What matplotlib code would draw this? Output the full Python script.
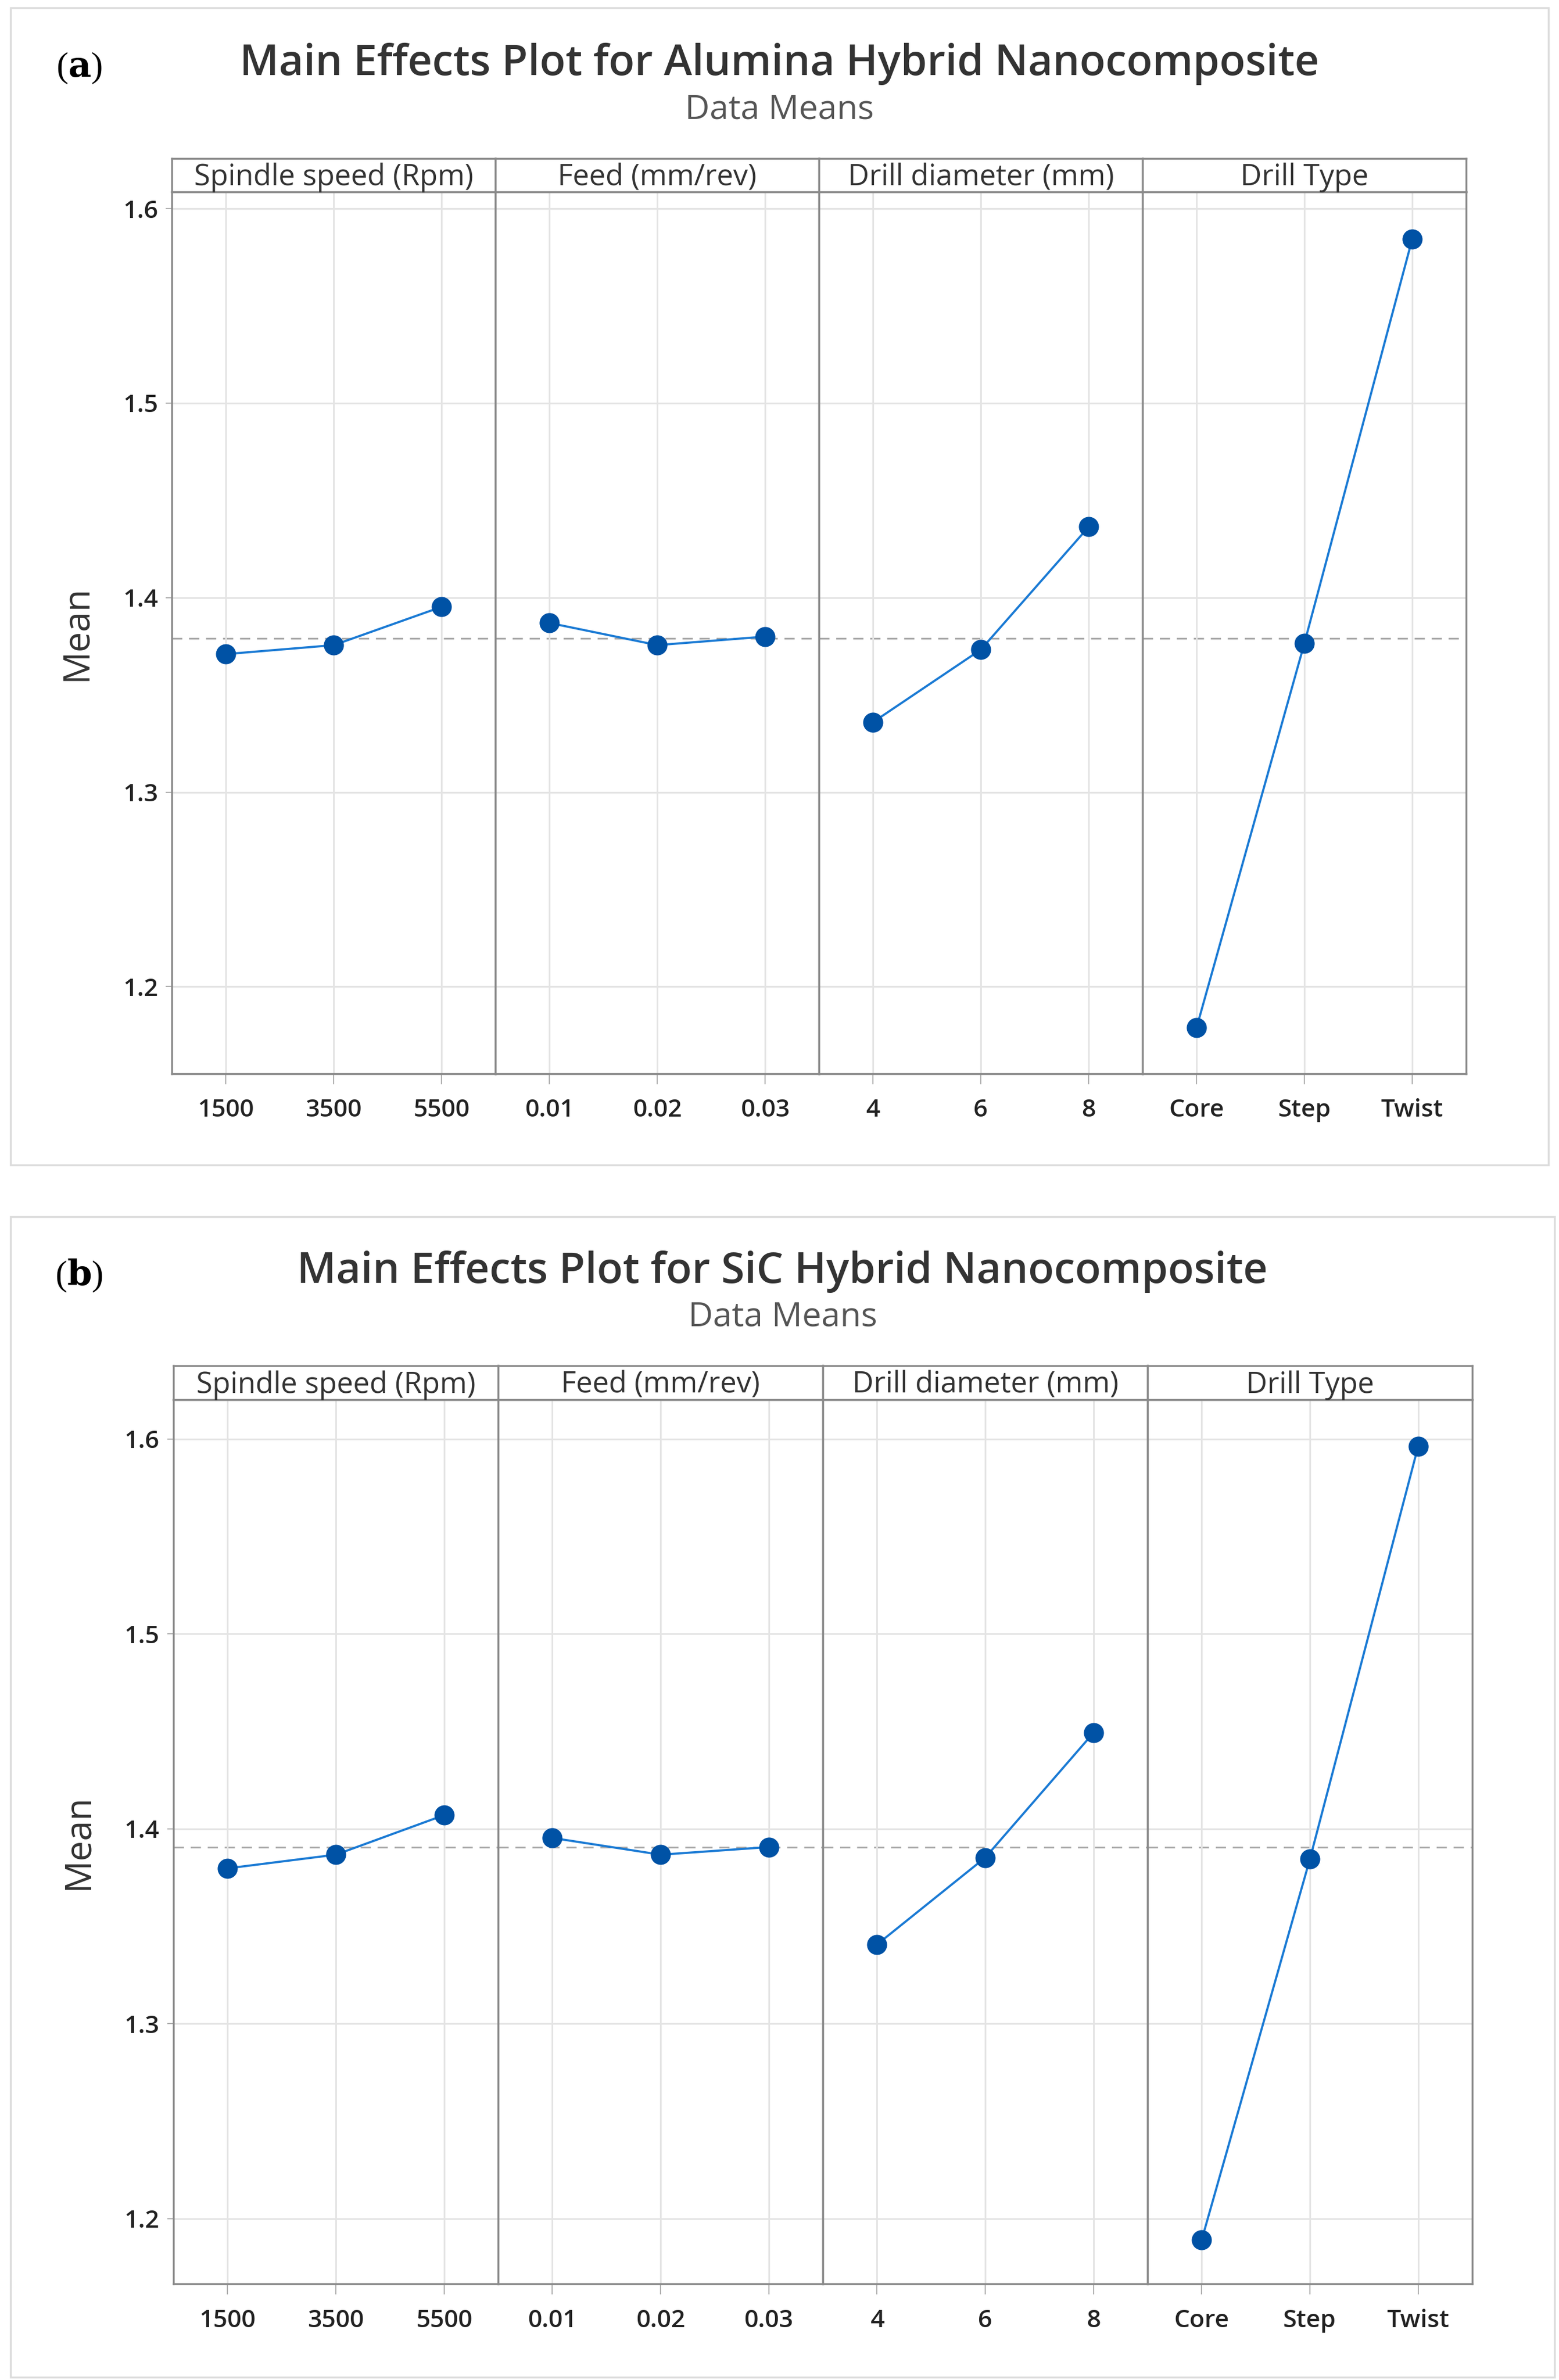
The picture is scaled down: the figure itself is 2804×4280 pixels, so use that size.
import matplotlib.pyplot as plt
from matplotlib.patches import Rectangle

plt.rcParams['font.family'] = ['Open Sans', 'DejaVu Sans']
plt.rcParams['mathtext.fontset'] = 'dejavuserif'

# factor names and levels
factors = ['Spindle speed (Rpm)', 'Feed (mm/rev)', 'Drill diameter (mm)', 'Drill Type']
speed_levels = ['1500', '3500', '5500']
feed_levels = ['0.01', '0.02', '0.03']
diameter_levels = ['4', '6', '8']
type_levels = ['Core', 'Step', 'Twist']

# (a) alumina hybrid nanocomposite - data means
alumina_speed = [1.371, 1.3756, 1.3953]
alumina_feed = [1.387, 1.3756, 1.380]
alumina_diameter = [1.336, 1.3733, 1.4364]
alumina_type = [1.1789, 1.3765, 1.5843]
alumina_mean = 1.3790

# (b) SiC hybrid nanocomposite - data means
sic_speed = [1.3797, 1.3867, 1.407]
sic_feed = [1.3953, 1.3867, 1.3906]
sic_diameter = [1.3406, 1.3852, 1.4492]
sic_type = [1.189, 1.3844, 1.5961]
sic_mean = 1.3906

yticks = [1.2, 1.3, 1.4, 1.5, 1.6]

W, H = 1024.0, 1563.0  # layout units (reference at reduced scale)
fig = plt.figure(figsize=(28.04, 42.80), dpi=100)

line_col = '#1a7ad4'
mark_col = '#0052a5'
grid_col = '#e4e4e4'
spine_col = '#8a8a8a'


def fx(x):
    return x / W


def fy(y):
    return 1 - y / H


def draw_panel(box, title, tag, left, right, strip_top, ax_top, ax_bottom, ylim, series, grand_mean):
    bx0, by0, bx1, by1 = box
    fig.patches.append(Rectangle((fx(bx0), fy(by1)), fx(bx1) - fx(bx0), fy(by0) - fy(by1),
                                 transform=fig.transFigure, fill=False,
                                 edgecolor='#dcdcdc', linewidth=2.5))
    cx = (bx0 + bx1) / 2
    fig.text(fx(cx), fy(ax_top - 84), title, ha='center', va='center',
             fontsize=55, fontweight='semibold', color='#333333')
    fig.text(fx(cx), fy(ax_top - 54), 'Data Means', ha='center', va='center',
             fontsize=44, color='#555555')
    fig.text(fx(bx0 + 45), fy(ax_top - 81), tag, ha='center', va='center',
             fontsize=46, family=['Liberation Serif', 'DejaVu Serif'],
             color='black')

    n = len(series)
    pw = (right - left) / n
    for i, (levels, vals) in enumerate(series):
        x0 = left + i * pw
        ax = fig.add_axes([fx(x0), fy(ax_bottom), fx(pw), fy(ax_top) - fy(ax_bottom)])
        pos = [1, 2, 3]
        ax.set_xlim(0.5, 3.5)
        ax.set_ylim(*ylim)
        ax.set_xticks(pos)
        ax.set_xticklabels(levels, fontsize=32, fontweight='semibold', color='#222222')
        ax.set_yticks(yticks)
        ax.grid(True, color=grid_col, linewidth=2.2, zorder=0)
        ax.axhline(grand_mean, color='#a8a8a8', linestyle=(0, (6, 4)), linewidth=2.2, zorder=1)
        ax.plot(pos, vals, color=line_col, linewidth=2.8, zorder=2)
        ax.plot(pos, vals, 'o', color=mark_col, markersize=25, zorder=3)
        ax.tick_params(axis='x', length=14, width=1.5, color='#b0b0b0', pad=18)
        ax.tick_params(axis='y', length=8, width=1.5, color='#b0b0b0', pad=10)
        if i == 0:
            ax.set_yticklabels([f'{t:.1f}' for t in yticks], fontsize=32,
                               fontweight='semibold', color='#222222')
            ax.set_ylabel('Mean', fontsize=47, color='#333333', labelpad=36)
        else:
            ax.tick_params(axis='y', left=False, labelleft=False)
        for s in ax.spines.values():
            s.set_color(spine_col)
            s.set_linewidth(2.5)
        # strip header
        sax = fig.add_axes([fx(x0), fy(ax_top), fx(pw), fy(strip_top) - fy(ax_top)])
        sax.set_xticks([])
        sax.set_yticks([])
        for s in sax.spines.values():
            s.set_color(spine_col)
            s.set_linewidth(2.5)
        sax.text(0.5, 0.42, factors[i], ha='center', va='center', fontsize=38,
                 color='#333333', transform=sax.transAxes)


draw_panel((7, 5, 1017, 765), 'Main Effects Plot for Alumina Hybrid Nanocomposite', r'($\mathbf{a}$)',
           113, 963, 104, 126, 705, (1.1554, 1.6086),
           [(speed_levels, alumina_speed), (feed_levels, alumina_feed),
            (diameter_levels, alumina_diameter), (type_levels, alumina_type)],
           alumina_mean)

draw_panel((7, 799, 1021, 1561), 'Main Effects Plot for SiC Hybrid Nanocomposite', r'($\mathbf{b}$)',
           114, 967, 897, 919, 1500, (1.1664, 1.6203),
           [(speed_levels, sic_speed), (feed_levels, sic_feed),
            (diameter_levels, sic_diameter), (type_levels, sic_type)],
           sic_mean)

plt.savefig('out.png', dpi=100)
